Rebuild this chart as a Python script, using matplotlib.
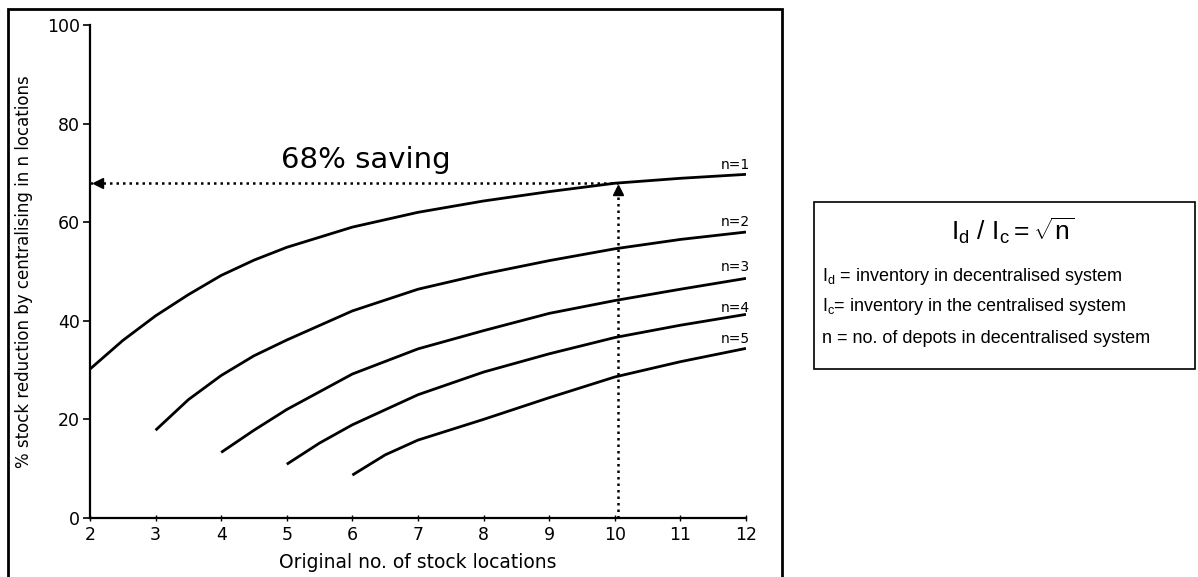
import matplotlib.pyplot as plt
from matplotlib.patches import Rectangle

plt.rcParams['font.family'] = ['DejaVu Sans']
plt.rcParams['mathtext.fontset'] = 'custom'
plt.rcParams['mathtext.rm'] = 'Liberation Sans'
plt.rcParams['mathtext.it'] = 'Liberation Sans'

# values (% stock reduction for n central locations)
x_n1 = [2, 2.5, 3, 3.5, 4, 4.5, 5, 6, 7, 8, 9, 10, 11, 12]
y_n1 = [30.2, 36.0, 41.0, 45.3, 49.2, 52.3, 54.9, 59.0, 62.0, 64.3, 66.2, 67.9, 68.9, 69.7]
x_n2 = [3, 3.5, 4, 4.5, 5, 6, 7, 8, 9, 10, 11, 12]
y_n2 = [17.8, 24.0, 28.9, 32.9, 36.1, 42.0, 46.4, 49.5, 52.2, 54.6, 56.5, 58.0]
x_n3 = [4, 4.5, 5, 6, 7, 8, 9, 10, 11, 12]
y_n3 = [13.3, 17.8, 22.0, 29.2, 34.3, 38.0, 41.5, 44.1, 46.4, 48.6]
x_n4 = [5, 5.5, 6, 7, 8, 9, 10, 11, 12]
y_n4 = [10.9, 15.2, 18.9, 25.0, 29.6, 33.3, 36.6, 39.1, 41.3]
x_n5 = [6, 6.5, 7, 8, 9, 10, 11, 12]
y_n5 = [8.7, 12.8, 15.8, 20.0, 24.4, 28.6, 31.7, 34.4]
labels = ['n=1', 'n=2', 'n=3', 'n=4', 'n=5']
label_y = [71.6, 60.0, 51.0, 42.6, 36.4]

saving_x = 10.05
saving_y = 68

fig = plt.figure(figsize=(11.98, 5.77), dpi=100)
ax = fig.add_axes([0.0751, 0.1023, 0.5476, 0.8544])

curves = [(x_n1, y_n1), (x_n2, y_n2), (x_n3, y_n3), (x_n4, y_n4), (x_n5, y_n5)]
for (xs, ys), lab, ly in zip(curves, labels, label_y):
    ax.plot(xs, ys, color='black', lw=2, solid_capstyle='butt', solid_joinstyle='round')
    ax.text(12.06, ly, lab, ha='right', va='center', fontsize=10)

# dotted guide lines with arrow heads
dots = (0, (1, 1.6))
ax.plot([2, saving_x], [saving_y, saving_y], color='black', lw=1.8, ls=dots)
ax.plot([saving_x, saving_x], [0, saving_y - 1], color='black', lw=1.8, ls=dots)
ax.plot([2.12], [saving_y], marker='<', color='black', ms=7)
ax.plot([saving_x], [saving_y - 1.4], marker='^', color='black', ms=7)
ax.text(6.21, 72.6, '68% saving', ha='center', va='center', fontsize=21)

ax.set_xlim(2, 12)
ax.set_ylim(0, 100)
ax.set_xticks(range(2, 13))
ax.set_yticks([0, 20, 40, 60, 80, 100])
for s in ['top', 'right']:
    ax.spines[s].set_visible(False)
for s in ['left', 'bottom']:
    ax.spines[s].set_linewidth(1.6)
ax.tick_params(axis='y', direction='out', length=5, width=1.2, labelsize=12.5, pad=2)
ax.tick_params(axis='x', direction='inout', length=5, width=1.0, labelsize=12.5, pad=3)
ax.set_xlabel('Original no. of stock locations', fontsize=13.5, labelpad=7)
ax.set_ylabel('% stock reduction by centralising in n locations', fontsize=12, labelpad=10)

# outer frame round the chart
fig.patches.append(Rectangle((0.0067, -0.01), 0.646, 0.994, transform=fig.transFigure,
                             fill=False, edgecolor='black', lw=2))

# formula box
fig.patches.append(Rectangle((0.6795, 0.3605), 0.318, 0.289, transform=fig.transFigure,
                             fill=False, edgecolor='black', lw=1.2))
fig.text(0.845, 0.600, r'$\mathrm{I_d\ /\ I_c = \sqrt{n}}$', ha='center', va='center', fontsize=19)
fig.text(0.6862, 0.520, r'$\mathrm{I_d}$ = inventory in decentralised system',
         ha='left', va='center', fontsize=13, family='Liberation Sans')
fig.text(0.6862, 0.468, r'$\mathrm{I_c}$= inventory in the centralised system',
         ha='left', va='center', fontsize=13, family='Liberation Sans')
fig.text(0.6862, 0.414, 'n = no. of depots in decentralised system',
         ha='left', va='center', fontsize=13, family='Liberation Sans')

fig.savefig('out.png', dpi=100)
